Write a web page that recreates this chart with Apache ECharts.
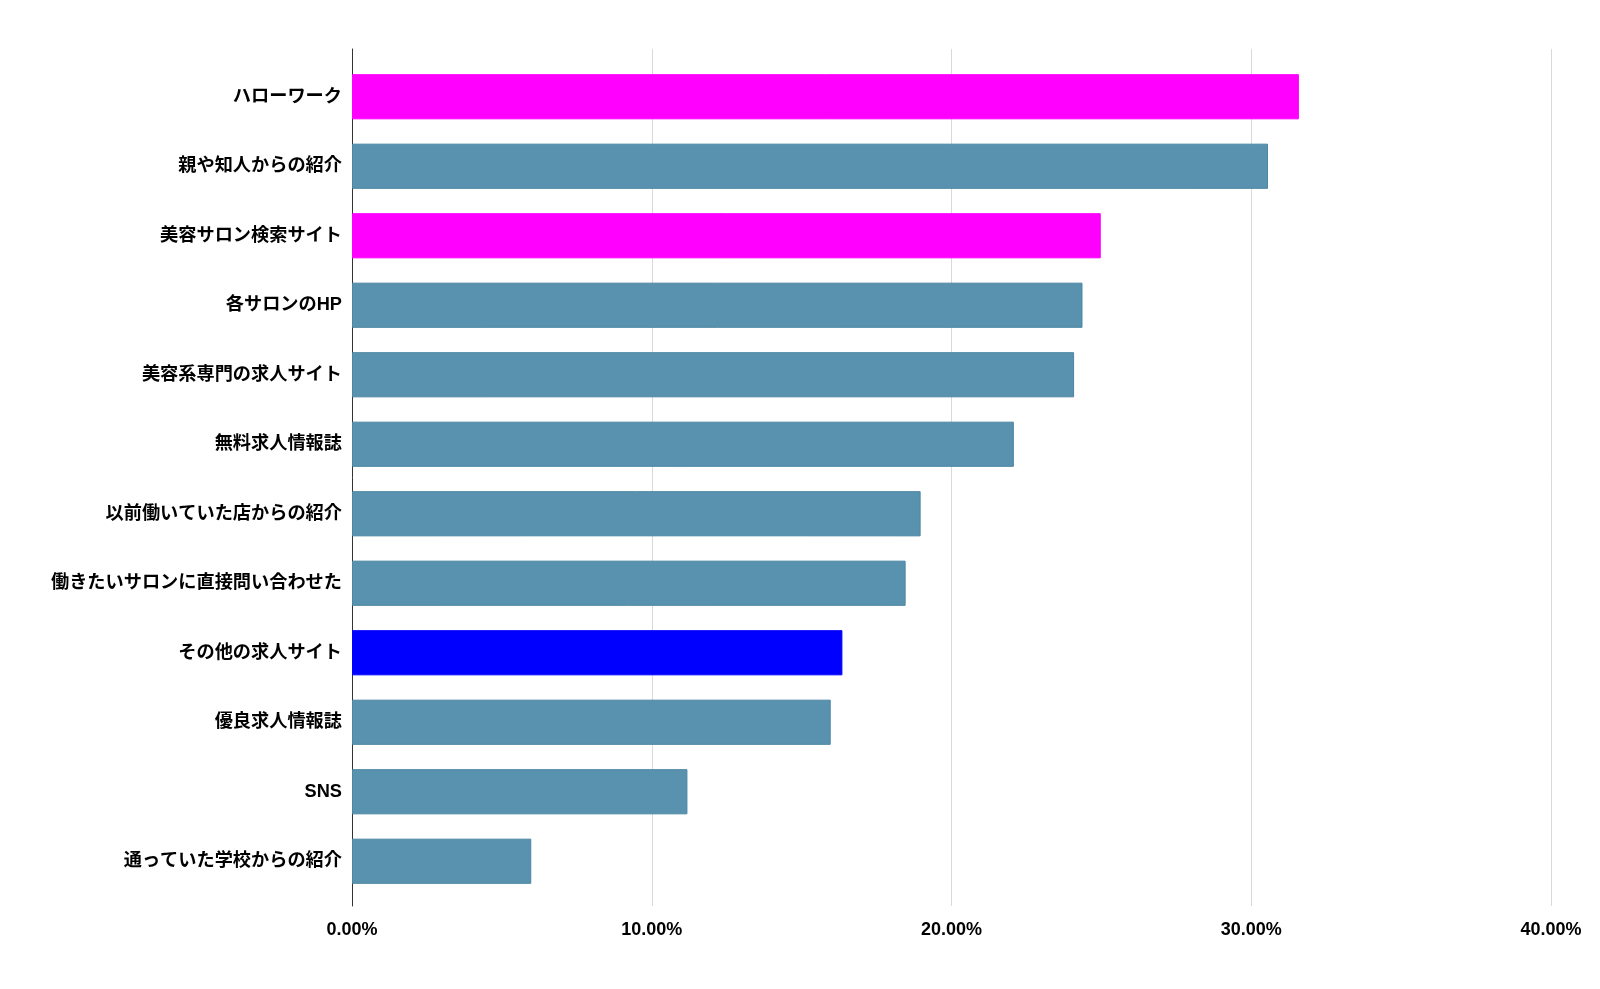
<!DOCTYPE html>
<html>
<head>
<meta charset="utf-8">
<script src="https://cdn.jsdelivr.net/npm/echarts@6/dist/echarts.min.js"></script>
<style>
html,body{margin:0;padding:0;background:#fff;}
#chart{width:1600px;height:989px;}
</style>
</head>
<body>
<div id="chart"></div>
<script>
const categories = [
  'ハローワーク',
  '親や知人からの紹介',
  '美容サロン検索サイト',
  '各サロンのHP',
  '美容系専門の求人サイト',
  '無料求人情報誌',
  '以前働いていた店からの紹介',
  '働きたいサロンに直接問い合わせた',
  'その他の求人サイト',
  '優良求人情報誌',
  'SNS',
  '通っていた学校からの紹介'
];
const values = [31.59, 30.56, 24.98, 24.37, 24.09, 22.08, 18.97, 18.47, 16.36, 15.97, 11.19, 5.98];
const tickValues = [0, 10, 20, 30, 40];

const baseColor = '#5892ae';
const highlight = {'ハローワーク': '#ff00ff', '美容サロン検索サイト': '#ff00ff', 'その他の求人サイト': '#0000ff'};

const font = '"Liberation Sans", Arial, "Noto Sans CJK JP", sans-serif';
const chart = echarts.init(document.getElementById('chart'), null, {renderer: 'canvas'});

const barData = values.map((v, i) => {
  const c = highlight[categories[i]];
  return {
    value: v,
    itemStyle: c ? {color: c, borderColor: c, borderWidth: 1}
                 : {color: baseColor, borderColor: '#4b86a3', borderWidth: 1}
  };
});

chart.setOption({
  animation: false,
  backgroundColor: '#ffffff',
  grid: [
    {left: 352, right: 49, top: 62, bottom: 93, containLabel: false},
    {left: 352, right: 49, top: 49, bottom: 83, containLabel: false}
  ],
  xAxis: [
    {gridIndex: 0, type: 'value', min: tickValues[0], max: tickValues[tickValues.length - 1], interval: 10,
     show: false, splitLine: {show: false}},
    {gridIndex: 1, type: 'value', min: tickValues[0], max: tickValues[tickValues.length - 1], interval: 10,
     axisLine: {show: false}, axisTick: {show: false},
     splitLine: {show: true, lineStyle: {color: '#d9d9d9', width: 1}},
     axisLabel: {show: true, margin: 15, color: '#000', fontSize: 18, fontWeight: 'bold', fontFamily: font,
       formatter: v => v.toFixed(2) + '%'}}
  ],
  yAxis: [
    {gridIndex: 0, type: 'category', data: categories, inverse: true,
     axisLine: {show: false}, axisTick: {show: false}, splitLine: {show: false},
     axisLabel: {margin: 10, color: '#000', fontSize: 18.2, fontWeight: 'bold', fontFamily: font,
       padding: [3, 0, 0, 0]}},
    {gridIndex: 1, type: 'value', min: 0, max: 1,
     axisLine: {show: true, lineStyle: {color: '#333', width: 1}},
     axisTick: {show: false}, axisLabel: {show: false}, splitLine: {show: false}}
  ],
  series: [
    {type: 'bar', xAxisIndex: 0, yAxisIndex: 0, data: barData, barCategoryGap: '35%', z: 3},
    {type: 'bar', xAxisIndex: 1, yAxisIndex: 1, data: []}
  ]
});
</script>
</body>
</html>
